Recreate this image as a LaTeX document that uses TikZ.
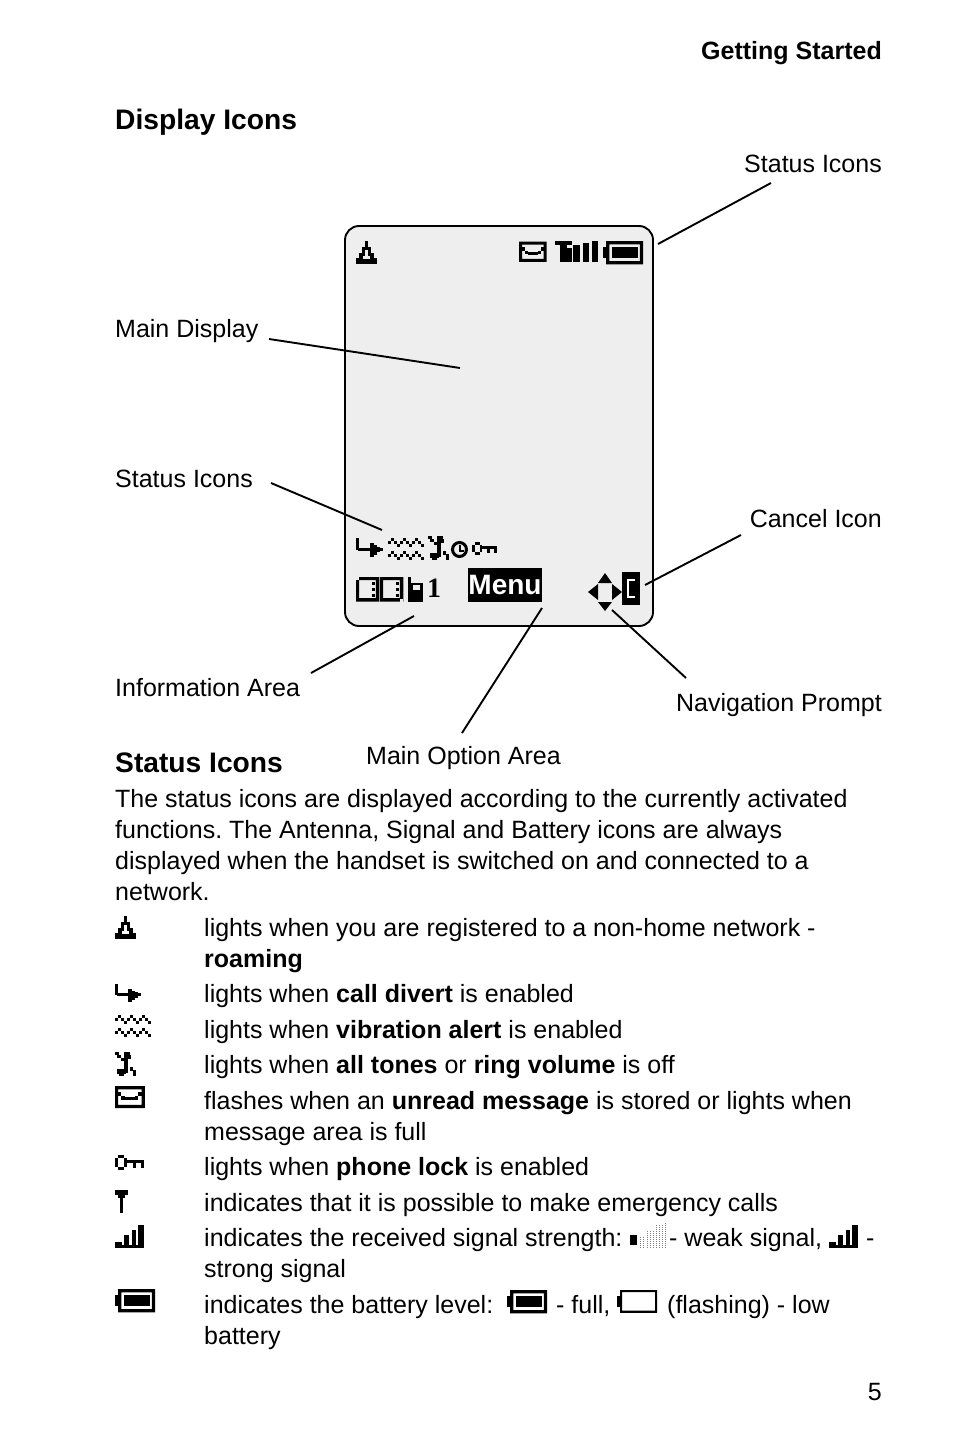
\documentclass[tikz,border=0pt]{standalone}
\usepackage{fontspec}
\setmainfont{Liberation Sans}
\newfontfamily\boldserif{Liberation Serif}
\usetikzlibrary{calc}
\definecolor{scrgray}{HTML}{EEEEEE}
\frenchspacing
\newcommand{\pixels}[1]{\begin{scope}[x=3pt,y=-3pt]
  \foreach \a/\b/\c/\d in {#1} {\fill (\a,\b) rectangle (\c,\d);}
\end{scope}}
\tikzset{
  txt/.style={anchor=base west, inner sep=0pt, font=\fontsize{25}{31}\selectfont},
  rtxt/.style={txt, anchor=base east},
  head/.style={txt, font=\fontsize{28.2}{34}\selectfont\bfseries},
  conn/.style={line width=1.9pt, black},
  pics/antenna/.style={code={\pixels{3/0/4/2,2/2/5/3,2/3/3/4,4/3/5/4,1/4/3/5,4/4/6/5,1/5/2.2/6,4.8/5/6/6,0/6/7/7.7,0/5.7/1.5/6.5,5.5/5.7/7/6.5}}},
  pics/divert/.style={code={\pixels{0/0/1/3.6,.7/3/8.5/4.1,4.3/1.7/5.5/5.9,5.5/2.2/6.5/5.2,6.5/2.7/7.5/4.5}}},
  pics/vibra/.style={code={\begin{scope}[x=3pt,y=-3pt]
    \foreach \r in {0,4.3} \foreach \c in {0,4,8} {
      \fill (\c,\r+1) rectangle ++(1.1,1.1);
      \fill (\c+1,\r) rectangle ++(1.1,1.1);
      \fill (\c+2,\r+1) rectangle ++(1.1,1.1);
      \fill (\c+3,\r+2) rectangle ++(1.1,1.1);}
    \end{scope}}},
  pics/ringoff/.style={code={\pixels{0/0/1.2/1,.8/1/2.1/2,1.9/2/2.9/3,3/0/4.2/7,4/0/5/1.2,4/1/5.4/2.2,.8/5.7/3.6/7.3,1.3/7/3/8,5/5/6/6.2,5.9/6/6.9/8}}},
  pics/envelope/.style={code={\begin{scope}[x=3pt,y=-3pt]
    \fill[even odd rule] (0,0) rectangle (9.2,6.8) (1,1) rectangle (8.2,5.8);
    \end{scope}\pixels{1/1.8/2/3,2/3/3/4.3,3/3.5/6.2/4.4,6.2/3/7.2/4.3,7.2/1.8/8.2/3}}},
  pics/phonekey/.style={code={\pixels{1/0/3/1,1/4/3/5,0/1/1/4,3/1/4/4,4/1.7/9.7/2.8,6/2.8/7/4.3,8.7/2.8/9.7/4.3}}},
  pics/tower/.style={code={\pixels{0/0/4.2/1.5,1/1.5/3.2/2.5,1.6/2.5/2.6/7.5}}},
  pics/sigbars/.style={code={\pixels{0/6.6/9.5/7.7,0/5.6/2.2/7,2.9/3.4/4.6/7,5.5/1.7/7/7,7.8/0/9.5/7}}},
  pics/towerbars/.style={code={\pixels{0/0/5.6/1.2,1.7/1.2/3.9/7,4.1/2.4/5.6/7,6.1/1.3/8.3/7,9.2/.6/11.4/7,12.2/0/14.4/7}}},
  pics/batfull/.style={code={\begin{scope}[x=3pt,y=-3pt]
    \fill[even odd rule] (1,0) rectangle (13.4,7.8) (2.1,1.1) rectangle (12.3,6.7);
    \end{scope}\pixels{0/2/1/5.8,3/2/11.6/5.8}}},
  pics/batlow/.style={code={\begin{scope}[x=3pt,y=-3pt]
    \fill[even odd rule] (1,0) rectangle (13.4,7.6) (1.7,.7) rectangle (12.7,6.9);
    \end{scope}\pixels{0/2/1/5.6}}},
  pics/clockicon/.style={code={\draw[line width=3pt] (8.5,8.5) circle (7);
    \pixels{2.5/1.2/3.3/3.2,2.5/2.9/4.4/3.6}}},
  pics/bookicon/.style={code={\begin{scope}[x=3pt,y=-3pt]
    \foreach \c in {0,8} {
      \fill[even odd rule] (\c,0) rectangle (\c+7.8,8.2) (\c+1,1) rectangle (\c+6.6,7);
      \foreach \r in {1.5,3.5,5.5} \fill (\c+5.2,\r) rectangle ++(1,1);}
    \fill[scrgray] (0,0) rectangle (1,1);
    \fill[scrgray] (14.8,7.2) rectangle (15.8,8.2);
    \end{scope}}},
  pics/handset/.style={code={\pixels{0/0/1/2,0/2/5/8.3}
    \begin{scope}[x=3pt,y=-3pt]\fill[scrgray] (1.7,2.8) rectangle (4.1,4.3);\end{scope}}},
  pics/navarrows/.style={code={
    \fill (0,-19) -- (7,-9) -- (-7,-9) -- cycle;
    \fill (0,19) -- (7,10) -- (-7,10) -- cycle;
    \fill (-17,0) -- (-7,-8) -- (-7,8) -- cycle;
    \fill (17,0) -- (7,-8) -- (7,8) -- cycle;}},
  pics/cancelicon/.style={code={\fill (0,0) rectangle (18,33);
    \begin{scope}[white]\pixels{1.8/2.2/4.4/3,1.5/3/2.3/8,1.8/8/4.4/8.8}\end{scope}}},
  pics/weaksig/.style={code={\fill (0,12) rectangle (7,22);
    \foreach \xx/\tp in {10/14,13/14,17/8,20/8,23/8,26/2,29/2,32/2,35/0}
      \foreach \yy in {24,22,...,\tp} \fill[black!50] (\xx,\yy) rectangle ++(1,1);}}
}
\begin{document}
\begin{tikzpicture}[x=1pt,y=-1pt]
\useasboundingbox (0,0) rectangle (954,1442);
\fill[white] (0,0) rectangle (954,1442);
\node[rtxt, font=\fontsize{25}{30}\selectfont\bfseries] (page) at (882,60) {Getting Started};
\node[head] (dispicons) at (115,130) {Display Icons};
\node[draw, line width=1.9pt, fill=scrgray, rounded corners=14pt, minimum width=308pt,
  minimum height=400pt, inner sep=0pt, outer sep=0pt, anchor=north west] (screen) at (345,226) {};
\node[rtxt] (topstat) at (882,173) {Status Icons};
\node[txt] (maindisp) at (115,337) {Main Display};
\node[txt] (leftstat) at (115,487) {Status Icons};
\node[rtxt] (cancel) at (882,527) {Cancel Icon};
\node[txt] (info) at (115,696) {Information Area};
\node[rtxt] (navp) at (882,711.5) {Navigation Prompt};
\node[txt] (option) at (366,764) {Main Option Area};
\coordinate (topend) at (658,244);
\coordinate (dispend) at (460,368);
\coordinate (leftend) at (382,530);
\coordinate (cancend) at (645,585);
\coordinate (infoend) at (414,616);
\coordinate (optend) at (542,608);
\coordinate (navend) at (612,610);
\draw[conn] ($(topstat.base east)+(-111,10)$) -- (topend);
\draw[conn] ($(maindisp.base west)+(154,2)$) -- (dispend);
\draw[conn] ($(leftstat.base west)+(156,-4)$) -- (leftend);
\draw[conn] ($(cancel.base east)+(-141,8)$) -- (cancend);
\draw[conn] ($(info.base west)+(196,-23)$) -- (infoend);
\draw[conn] ($(option.base west)+(96,-31)$) -- (optend);
\draw[conn] ($(navp.base east)+(-196,-33.5)$) -- (navend);
\pic at (356,241) {antenna};
\pic at (519,241.5) {envelope};
\pic at (555,241) {towerbars};
\pic at (603,241) {batfull};
\pic[scale=1.07] at (356,538) {divert};
\pic at (388,538) {vibra};
\pic at (428,536) {ringoff};
\pic at (451,541) {clockicon};
\pic[scale=.86] at (472,542) {phonekey};
\pic at (356,577) {bookicon};
\pic at (408,577) {handset};
\node[txt, font=\boldserif\fontsize{28}{30}\selectfont\bfseries] (line1) at (427,597) {1};
\node[fill=black, text=white, inner sep=0pt, minimum width=74pt, minimum height=34pt,
  font=\fontsize{28}{30}\selectfont\bfseries] (menu) at (505,585) {Menu};
\pic at (605,592) {navarrows};
\pic at (622,572) {cancelicon};
\node[head] (staticons) at (115,772) {Status Icons};
\foreach \nm/\yy/\tx in {
  para1/807.3/The status icons are displayed according to the currently activated,
  para2/838.3/functions. The Antenna{,} Signal and Battery icons are always,
  para3/869.3/displayed when the handset is switched on and connected to a,
  para4/900.3/network.}
  \node[txt] (\nm) at (115,\yy) {\tx};
\foreach \nm/\yy/\tx in {
  rowa/936.3/lights when you are registered to a non-home network -,
  rowb/967.3/\textbf{roaming},
  rowc/1002.3/lights when \textbf{call divert} is enabled,
  rowd/1038.3/lights when \textbf{vibration alert} is enabled,
  rowe/1073.3/lights when \textbf{all tones} or \textbf{ring volume} is off,
  rowf/1109.3/flashes when an \textbf{unread message} is stored or lights when,
  rowg/1140.3/message area is full,
  rowh/1175.3/lights when \textbf{phone lock} is enabled,
  rowi/1211.3/indicates that it is possible to make emergency calls,
  rowj/1246.3/indicates the received signal strength:,
  rowk/1277.3/strong signal,
  rowl/1313.3/indicates the battery level:,
  rowm/1344.3/battery}
  \node[txt] (\nm) at (204,\yy) {\tx};
\node[txt] (weak) at (669,1246.3) {- weak signal,};
\node[txt] (dash) at (866,1246.3) {-};
\node[txt] (full) at (556,1313.3) {- full,};
\node[txt] (flash) at (667,1313.3) {(flashing) - low};
\pic at (115,916) {antenna};
\pic at (115,984) {divert};
\pic at (115,1015) {vibra};
\pic at (115,1052) {ringoff};
\pic[scale=1.08] at (115,1086) {envelope};
\pic at (115,1155) {phonekey};
\pic at (115,1190) {tower};
\pic at (115,1225) {sigbars};
\pic at (115,1289) {batfull};
\pic at (630,1223) {weaksig};
\pic at (829,1225) {sigbars};
\pic at (507,1290) {batfull};
\pic at (617,1290) {batlow};
\node[rtxt] (pnum) at (882,1400) {5};
\end{tikzpicture}
\end{document}
